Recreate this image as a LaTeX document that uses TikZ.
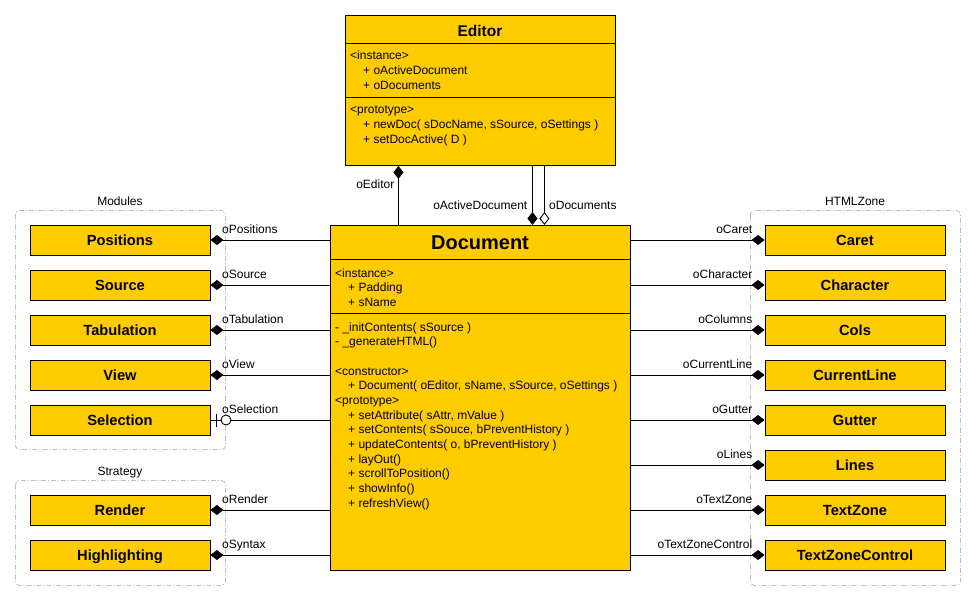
\documentclass[tikz,border=0pt]{standalone}
\usepackage{fontspec}
\setmainfont{Liberation Sans}
\usetikzlibrary{arrows.meta}
\definecolor{umlfill}{RGB}{255,204,0}
\definecolor{grp}{RGB}{190,190,190}
\tikzset{
  cls/.style={draw=black, fill=umlfill, line width=0.9pt, minimum width=180pt, minimum height=30pt, inner sep=0pt, text height=11pt, text depth=1pt, font=\fontsize{14.7}{16}\selectfont\bfseries},
  bigbox/.style={draw=black, fill=umlfill, line width=0.9pt, inner sep=0pt, anchor=north west},
  mem/.style={anchor=base west, inner sep=0pt, font=\fontsize{12}{14}\selectfont},
  lbl/.style={inner sep=0pt, font=\fontsize{12}{14}\selectfont},
  grpbox/.style={draw=grp, line width=0.8pt, rounded corners=4pt, dash pattern=on 5pt off 2pt on 1pt off 2pt},
  conn/.style={draw=black, line width=0.9pt},
  comp/.style={conn, {Diamond[length=13pt,width=10pt]}-},
}
\begin{document}
\begin{tikzpicture}[x=1pt,y=-1pt]
\useasboundingbox[fill=white] (0,0) rectangle (976,600);

% groups
\draw[grpbox] (15.5,210.5) rectangle (225.5,449.5);
\node[lbl, anchor=base] (modl) at (120,205) {Modules};
\draw[grpbox] (15.5,480.5) rectangle (225.5,585.5);
\node[lbl, anchor=base] (strl) at (120,475) {Strategy};
\draw[grpbox] (750.5,210.5) rectangle (960.5,585.5);
\node[lbl, anchor=base] (htmll) at (855,205) {HTMLZone};

% Editor
\node[bigbox, minimum width=270pt, minimum height=150pt] (editor) at (345,15) {};
\node[inner sep=0pt, font=\fontsize{15.5}{17}\selectfont\bfseries] (edtitle) at (480,30.5) {Editor};
\draw[conn] (345,43) -- (615,43);
\draw[conn] (345,97) -- (615,97);
\node[mem] (e1) at (350,59) {<instance>};
\node[mem] (e2) at (363,74.5) {+ oActiveDocument};
\node[mem] (e3) at (363,89.5) {+ oDocuments};
\node[mem] (e4) at (350,113) {<prototype>};
\node[mem] (e5) at (363,128.5) {+ newDoc( sDocName, sSource, oSettings )};
\node[mem] (e6) at (363,143.5) {+ setDocActive( D )};

% Document
\node[bigbox, minimum width=300pt, minimum height=345pt] (doc) at (330,225) {};
\node[inner sep=0pt, font=\fontsize{20}{22}\selectfont\bfseries] (doctitle) at (480,243) {Document};
\draw[conn] (330,259) -- (630,259);
\draw[conn] (330,313) -- (630,313);
\node[mem] (d1) at (335,277) {<instance>};
\node[mem] (d2) at (348,291.5) {+ Padding};
\node[mem] (d3) at (348,306) {+ sName};
\node[mem] (d4) at (335,331) {- \_initContents( sSource )};
\node[mem] (d5) at (335,345.5) {- \_generateHTML()};
\node[mem] (d6) at (335,375) {<constructor>};
\node[mem] (d7) at (348,389.5) {+ Document( oEditor, sName, sSource, oSettings )};
\node[mem] (d8) at (335,404) {<prototype>};
\node[mem] (d9) at (348,419) {+ setAttribute( sAttr, mValue )};
\node[mem] (d10) at (348,433.5) {+ setContents( sSouce, bPreventHistory )};
\node[mem] (d11) at (348,448) {+ updateContents( o, bPreventHistory )};
\node[mem] (d12) at (348,463) {+ layOut()};
\node[mem] (d13) at (348,477.5) {+ scrollToPosition()};
\node[mem] (d14) at (348,492) {+ showInfo()};
\node[mem] (d15) at (348,507) {+ refreshView()};

% Editor - Document
\draw[conn, {Diamond[length=13pt,width=10pt]}-] ([xshift=-82pt]editor.south) -- ([xshift=-82pt]doc.north);
\node[lbl, anchor=base east] (leditor) at (394.5,188) {oEditor};
\draw[conn, -{Diamond[length=13pt,width=10pt]}] ([xshift=52pt]editor.south) -- ([xshift=52pt]doc.north);
\node[lbl, anchor=base east] (lactive) at (527.5,209) {oActiveDocument};
\draw[conn, -{Diamond[length=13pt,width=10pt,fill=white]}] ([xshift=64pt]editor.south) -- ([xshift=64pt]doc.north);
\node[lbl, anchor=base west] (ldocs) at (549,209) {oDocuments};

% left classes
\node[cls] (pos) at (120,240) {Positions};
\node[cls] (src) at (120,285) {Source};
\node[cls] (tab) at (120,330) {Tabulation};
\node[cls] (view) at (120,375) {View};
\node[cls] (sel) at (120,420) {Selection};
\node[cls] (rend) at (120,510) {Render};
\node[cls] (high) at (120,555) {Highlighting};

\draw[comp] (pos.east) -- (pos.east -| doc.west);
\draw[comp] (src.east) -- (src.east -| doc.west);
\draw[comp] (tab.east) -- (tab.east -| doc.west);
\draw[comp] (view.east) -- (view.east -| doc.west);
\draw[conn] (sel.east) -- (sel.east -| doc.west);
\draw[conn] (216.7,413.5) -- (216.7,426.5);
\node[circle, draw=black, fill=white, minimum size=10pt, inner sep=0pt, line width=0.9pt] (selc) at (226,420) {};
\draw[comp] (rend.east) -- (rend.east -| doc.west);
\draw[comp] (high.east) -- (high.east -| doc.west);

\node[lbl, anchor=base west] (lpos) at (222,233.5) {oPositions};
\node[lbl, anchor=base west] (lsrc) at (222,278.5) {oSource};
\node[lbl, anchor=base west] (ltab) at (222,323.5) {oTabulation};
\node[lbl, anchor=base west] (lview) at (222,368.5) {oView};
\node[lbl, anchor=base west] (lsel) at (222,413.5) {oSelection};
\node[lbl, anchor=base west] (lrend) at (222,503.5) {oRender};
\node[lbl, anchor=base west] (lhigh) at (222,548.5) {oSyntax};

% right classes
\node[cls] (caret) at (855,240) {Caret};
\node[cls] (chr) at (855,285) {Character};
\node[cls] (cols) at (855,330) {Cols};
\node[cls] (cur) at (855,375) {CurrentLine};
\node[cls] (gut) at (855,420) {Gutter};
\node[cls] (lines) at (855,465) {Lines};
\node[cls] (tz) at (855,510) {TextZone};
\node[cls] (tzc) at (855,555) {TextZoneControl};

\draw[comp] (caret.west) -- (caret.west -| doc.east);
\draw[comp] (chr.west) -- (chr.west -| doc.east);
\draw[comp] (cols.west) -- (cols.west -| doc.east);
\draw[comp] (cur.west) -- (cur.west -| doc.east);
\draw[comp] (gut.west) -- (gut.west -| doc.east);
\draw[comp] (lines.west) -- (lines.west -| doc.east);
\draw[comp] (tz.west) -- (tz.west -| doc.east);
\draw[comp] (tzc.west) -- (tzc.west -| doc.east);

\node[lbl, anchor=base east] (lcaret) at (752.5,233.5) {oCaret};
\node[lbl, anchor=base east] (lchr) at (752.5,278.5) {oCharacter};
\node[lbl, anchor=base east] (lcols) at (752.5,323.5) {oColumns};
\node[lbl, anchor=base east] (lcur) at (752.5,368.5) {oCurrentLine};
\node[lbl, anchor=base east] (lgut) at (752.5,413.5) {oGutter};
\node[lbl, anchor=base east] (llines) at (752.5,458.5) {oLines};
\node[lbl, anchor=base east] (ltz) at (752.5,503.5) {oTextZone};
\node[lbl, anchor=base east] (ltzc) at (752.5,548.5) {oTextZoneControl};
\end{tikzpicture}
\end{document}
